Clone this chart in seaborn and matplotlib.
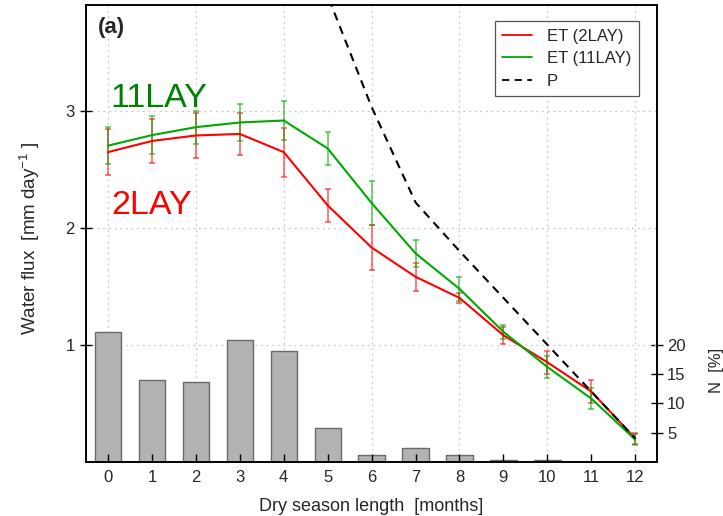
import numpy as np
import pandas as pd
import matplotlib
matplotlib.use("Agg")
import matplotlib.pyplot as plt
from matplotlib.ticker import FixedLocator
import seaborn as sns

# Dry season length classes [months]
months = list(range(13))

# Evapotranspiration, 2-layer soil model [mm/day] and its spread
et_2lay = [2.645, 2.74, 2.787, 2.80, 2.645, 2.19, 1.83, 1.58, 1.40, 1.08, 0.85, 0.60, 0.20]
et_2lay_err = [0.195, 0.19, 0.19, 0.18, 0.21, 0.14, 0.195, 0.12, 0.045, 0.07, 0.10, 0.095, 0.05]

# Evapotranspiration, 11-layer soil model [mm/day] and its spread
et_11lay = [2.70, 2.79, 2.858, 2.898, 2.915, 2.676, 2.21, 1.78, 1.477, 1.11, 0.81, 0.54, 0.19]
et_11lay_err = [0.16, 0.16, 0.14, 0.16, 0.165, 0.14, 0.19, 0.115, 0.10, 0.06, 0.095, 0.09, 0.05]

# Precipitation [mm/day] for the longer dry seasons
p_months = [5, 6, 7, 8, 9, 10, 11, 12]
precip = [3.98, 3.03, 2.215, 1.80, 1.40, 1.00, 0.60, 0.20]

# Share of grid cells in each dry season class [%]
n_share = [22.2, 14.0, 13.6, 20.8, 18.9, 5.8, 1.1, 2.4, 1.15, 0.35, 0.3, 0.0, 0.0]

sns.set_theme(style="white")
plt.rcParams["font.family"] = ["Liberation Sans", "DejaVu Sans"]
plt.rcParams["mathtext.fontset"] = "custom"
plt.rcParams["mathtext.rm"] = "Liberation Sans"
plt.rcParams["mathtext.it"] = "Liberation Sans:italic"

fig = plt.figure(figsize=(7.23, 5.16), dpi=100)
ax = fig.add_axes([0.119, 0.105, 0.790, 0.885])
ax2 = ax.twinx()

# Bars for the class frequencies, underneath the flux curves
bars_df = pd.DataFrame({"month": months, "N": n_share})
sns.barplot(data=bars_df, x="month", y="N", native_scale=True, width=0.6,
            color="#b3b3b3", saturation=1, edgecolor="#6a6a6a", linewidth=1.0,
            ax=ax2, zorder=2)

ax.set_zorder(ax2.get_zorder() + 1)
ax.patch.set_visible(False)

red = "#ff0000"
green = "#00a800"

ax.errorbar(months, et_2lay, yerr=et_2lay_err, fmt="none", ecolor=red,
            elinewidth=1.1, capsize=2.5, capthick=1.1, alpha=0.65, zorder=3)
ax.errorbar(months, et_11lay, yerr=et_11lay_err, fmt="none", ecolor=green,
            elinewidth=1.1, capsize=2.5, capthick=1.1, alpha=0.65, zorder=3)

sns.lineplot(x=months, y=et_2lay, color=red, lw=1.5, ax=ax, label="ET (2LAY)", zorder=4)
sns.lineplot(x=months, y=et_11lay, color=green, lw=1.5, ax=ax, label="ET (11LAY)", zorder=4)
sns.lineplot(x=p_months, y=precip, color="black", lw=1.5, ax=ax, label="P",
             zorder=4, dashes=False, linestyle=(0, (4, 3)))

# Axis ranges: 1 mm/day on the left matches 20 % on the right
ax.set_xlim(-0.5, 12.5)
ax.set_ylim(0, 3.9)
ax2.set_ylim(0, 78)

ax.set_xticks(months)
ax.set_xticklabels([str(m) for m in months])
ax.set_yticks([1, 2, 3])
ax2.set_yticks([5, 10, 15, 20])

# Dotted grid drawn on the bar axes so the bars cover it
ax2.xaxis.set_visible(True)
ax2.xaxis.remove_overlapping_locs = False
ax2.yaxis.remove_overlapping_locs = False
ax.xaxis.remove_overlapping_locs = False
ax2.xaxis.set_minor_locator(FixedLocator([0, 2, 4, 6, 8, 10, 12]))
ax2.yaxis.set_minor_locator(FixedLocator([20, 40, 60]))
ax2.set_axisbelow(True)
ax2.grid(False)
ax2.grid(which="minor", axis="both", color="#c8c8c8", linestyle=(0, (1.5, 3)), lw=0.9)
ax.grid(False)
ax2.tick_params(axis="x", which="both", length=0, labelbottom=False, labeltop=False)
ax2.set_xlabel("")

ax.tick_params(axis="x", which="major", direction="in", length=6, width=1.0,
               labelsize=12, pad=6, color="black", bottom=True, top=False)
ax.tick_params(axis="x", which="minor", length=0)
ax.tick_params(axis="y", direction="inout", length=8, width=1.0, labelsize=12,
               pad=4, color="black", left=True)
ax2.tick_params(axis="y", which="major", direction="inout", length=8, width=1.0,
                labelsize=12, pad=3, color="black", right=True)
ax2.tick_params(axis="y", which="minor", length=0)

for a in (ax, ax2):
    for s in a.spines.values():
        s.set_color("black")
        s.set_linewidth(1.2)

ax.set_xlabel("Dry season length  [months]", fontsize=13, labelpad=9)
ax.set_ylabel("Water flux  [mm day$^{-1}$ ]", fontsize=13.5)
ax2.set_ylabel("N  [%]", fontsize=12)
ax2.yaxis.set_label_coords(1.09, 0.20)
ax.yaxis.set_label_coords(-0.077, 0.49)

ax.text(-0.235, 3.66, "(a)", fontsize=16, fontweight="bold", ha="left", va="baseline")
ax.text(0.06, 3.03, "11LAY", fontsize=24.5, color="#008000", ha="left", va="baseline")
ax.text(0.08, 2.115, "2LAY", fontsize=24.5, color=red, ha="left", va="baseline")

leg = ax.legend(loc="upper right", bbox_to_anchor=(0.968, 0.965), borderaxespad=0,
                fontsize=12, frameon=True, fancybox=False, edgecolor="#555555",
                framealpha=1, handlelength=1.8, handletextpad=0.9, labelspacing=0.45,
                borderpad=0.45)
leg.get_frame().set_linewidth(0.9)
for h in leg.get_lines():
    h.set_linewidth(1.3)

fig.savefig("out.png", dpi=100)
